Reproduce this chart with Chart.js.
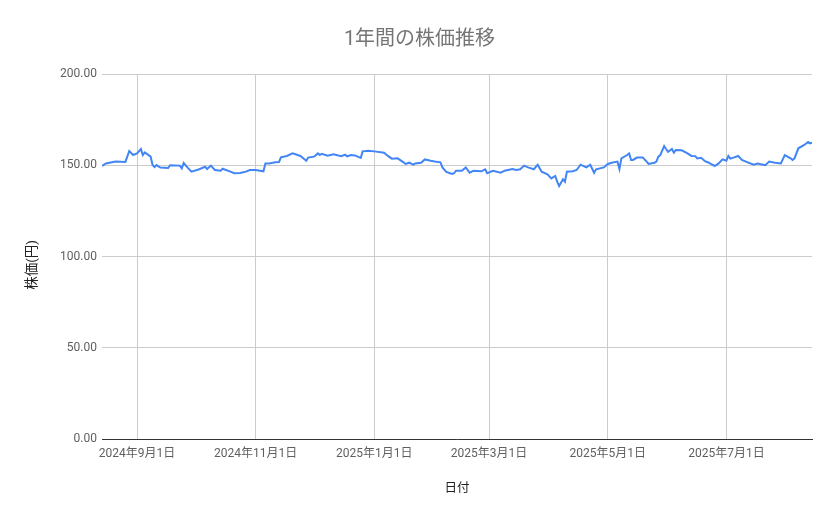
<!DOCTYPE html>
<html>
<head>
<meta charset="utf-8">
<script src="https://cdn.jsdelivr.net/npm/chart.js@4"></script>
<style>
  html, body { margin: 0; padding: 0; background: #fff; }
  #wrap { width: 839px; height: 519px; }
</style>
</head>
<body>
<div id="wrap"><canvas id="myChart" width="839" height="519"></canvas></div>
<script>
// Dates of the points
let dates = [
  "2024-08-14","2024-08-16","2024-08-21","2024-08-26","2024-08-27","2024-08-28","2024-08-30",
  "2024-09-01","2024-09-03","2024-09-04","2024-09-05","2024-09-08","2024-09-09","2024-09-10","2024-09-11",
  "2024-09-13","2024-09-17","2024-09-18","2024-09-23","2024-09-24","2024-09-25","2024-09-27","2024-09-29",
  "2024-10-03","2024-10-06","2024-10-07","2024-10-09","2024-10-11","2024-10-14","2024-10-15","2024-10-19",
  "2024-10-21","2024-10-24","2024-10-27","2024-10-29",
  "2024-11-01","2024-11-05","2024-11-06","2024-11-08","2024-11-11","2024-11-13","2024-11-14","2024-11-17",
  "2024-11-20","2024-11-24","2024-11-25","2024-11-27","2024-11-28",
  "2024-12-01","2024-12-03","2024-12-04","2024-12-05","2024-12-08","2024-12-11","2024-12-14","2024-12-15",
  "2024-12-17","2024-12-18","2024-12-20","2024-12-22","2024-12-25","2024-12-26","2024-12-29",
  "2025-01-01","2025-01-06","2025-01-08","2025-01-10","2025-01-13","2025-01-16","2025-01-17","2025-01-19",
  "2025-01-21","2025-01-22","2025-01-25","2025-01-27","2025-01-30",
  "2025-02-01","2025-02-04","2025-02-05","2025-02-07","2025-02-10","2025-02-11","2025-02-12","2025-02-15",
  "2025-02-17","2025-02-19","2025-02-21","2025-02-25","2025-02-27","2025-02-28",
  "2025-03-03","2025-03-07","2025-03-09","2025-03-13","2025-03-15","2025-03-17","2025-03-19","2025-03-21",
  "2025-03-24","2025-03-26","2025-03-28","2025-03-31",
  "2025-04-02","2025-04-04","2025-04-05","2025-04-06","2025-04-08","2025-04-09","2025-04-10","2025-04-13",
  "2025-04-15","2025-04-17","2025-04-20","2025-04-22","2025-04-24","2025-04-25","2025-04-29",
  "2025-05-01","2025-05-03","2025-05-06","2025-05-07","2025-05-08","2025-05-11","2025-05-12","2025-05-13",
  "2025-05-14","2025-05-16","2025-05-19","2025-05-21","2025-05-22","2025-05-25","2025-05-26","2025-05-27",
  "2025-05-28","2025-05-30","2025-05-31",
  "2025-06-01","2025-06-03","2025-06-04","2025-06-05","2025-06-08","2025-06-11","2025-06-13","2025-06-15",
  "2025-06-16","2025-06-18","2025-06-20","2025-06-22","2025-06-23","2025-06-25","2025-06-27","2025-06-29",
  "2025-07-01","2025-07-02","2025-07-03","2025-07-05","2025-07-07","2025-07-09","2025-07-11","2025-07-15",
  "2025-07-17","2025-07-21","2025-07-23","2025-07-26","2025-07-29","2025-07-31",
  "2025-08-03","2025-08-04","2025-08-05","2025-08-07","2025-08-10","2025-08-12","2025-08-13","2025-08-14"
];

// Price (yen)
let prices = [
  149.6,151.0,152.0,151.8,154.7,157.8,155.6,
  156.5,158.9,155.6,157.0,154.7,150.1,149.0,150.1,
  148.7,148.5,150.0,149.8,148.3,151.2,148.7,146.5,
  147.8,149.2,147.9,149.8,147.4,147.0,148.1,146.5,
  145.6,145.8,146.5,147.4,
  147.4,146.7,151.0,151.0,151.6,151.8,154.3,155.1,
  156.5,155.1,154.2,152.5,154.2,
  154.7,156.5,155.6,156.3,155.2,156.0,155.2,155.0,
  155.8,154.9,155.6,155.4,154.0,157.6,158.0,
  157.6,156.9,155.1,153.6,153.8,151.6,150.7,151.4,
  150.3,151.0,151.4,153.2,152.5,
  152.1,151.6,148.8,146.3,145.2,145.6,147.0,147.0,
  148.8,145.9,147.0,146.7,147.8,145.6,
  147.0,145.9,147.0,147.9,147.4,147.8,149.8,148.8,
  147.8,150.3,146.5,145.0,
  142.8,144.1,141.0,138.6,142.3,141.0,146.5,146.7,
  147.4,150.3,148.8,150.3,145.9,147.8,148.8,
  150.7,151.4,152.0,147.9,153.8,155.6,156.5,152.9,
  152.9,154.2,154.2,152.0,150.7,151.4,152.0,154.7,
  155.6,160.5,158.9,
  157.4,158.9,156.9,158.4,158.2,156.5,155.1,155.0,
  153.7,154.1,152.2,151.4,150.7,149.6,151.0,153.2,
  152.5,155.1,153.6,154.3,155.1,152.9,152.0,150.3,
  150.9,150.0,152.0,151.4,151.0,155.6,
  153.8,152.9,153.8,159.3,161.1,162.7,162.0,162.4
];

// Axis labels
let xTickDates = ["2024-09-01","2024-11-01","2025-01-01","2025-03-01","2025-05-01","2025-07-01"];
let xTickLabels = ["2024年9月1日","2024年11月1日","2025年1月1日","2025年3月1日","2025年5月1日","2025年7月1日"];
let yTicks = [0, 50, 100, 150, 200];

// days since first date
let day0 = Date.parse(dates[0]);
function toDay(s) { return Math.round((Date.parse(s) - day0) / 86400000); }

let points = dates.map((d, i) => ({ x: toDay(d), y: prices[i] }));
let xTickVals = xTickDates.map(toDay);

let font = "Roboto, 'Noto Sans CJK JP', sans-serif";

var ctx = document.getElementById('myChart').getContext('2d');
var chart = new Chart(ctx, {
  type: 'line',
  data: {
    datasets: [{
      data: points,
      borderColor: '#4285f4',
      borderWidth: 2,
      pointRadius: 0,
      tension: 0,
      fill: false
    }]
  },
  options: {
    responsive: false,
    animation: false,
    layout: { padding: 0 },
    plugins: {
      legend: { display: false },
      tooltip: { enabled: false },
      title: {
        display: true,
        text: '1年間の株価推移',
        color: '#757575',
        font: { family: font, size: 20, weight: 'normal' },
        padding: { top: 28, bottom: 22 }
      }
    },
    scales: {
      x: {
        type: 'linear',
        min: 0,
        max: toDay(dates[dates.length - 1]),
        afterBuildTicks: (scale) => { scale.ticks = xTickVals.map(v => ({ value: v })); },
        afterFit: (scale) => { scale.height = 80; },
        ticks: {
          autoSkip: false,
          maxRotation: 0,
          padding: 8,
          color: '#5f5f5f',
          font: { family: font, size: 12 },
          callback: (v) => { let i = xTickVals.indexOf(v); return i >= 0 ? xTickLabels[i] : ''; }
        },
        grid: { color: '#cccccc', drawTicks: false },
        border: { display: true, color: '#333333', width: 1 },
        title: {
          display: true,
          text: '日付',
          color: '#222222',
          font: { family: font, size: 12.5 },
          padding: { top: 0, bottom: 23 }
        }
      },
      y: {
        min: 0,
        max: 200,
        afterBuildTicks: (scale) => { scale.ticks = yTicks.map(v => ({ value: v })); },
        afterFit: (scale) => { scale.width = 102; },
        ticks: {
          padding: 5,
          color: '#5f5f5f',
          font: { family: font, size: 12 },
          callback: (v) => v.toFixed(2)
        },
        grid: { color: '#cccccc', drawTicks: false },
        border: { display: false },
        title: {
          display: true,
          // trailing spaces nudge the label a little below the middle, as in the original
          text: '株価(円)     ',
          color: '#222222',
          font: { family: font, size: 13.5 },
          padding: { top: 25, bottom: 0 }
        }
      },
      // empty right-hand strip so the title is centred on the whole canvas
      y2: {
        position: 'right',
        display: true,
        afterFit: (scale) => { scale.width = 27; },
        ticks: { display: false },
        grid: { display: false, drawOnChartArea: false },
        border: { display: false }
      }
    }
  }
});
</script>
</body>
</html>
